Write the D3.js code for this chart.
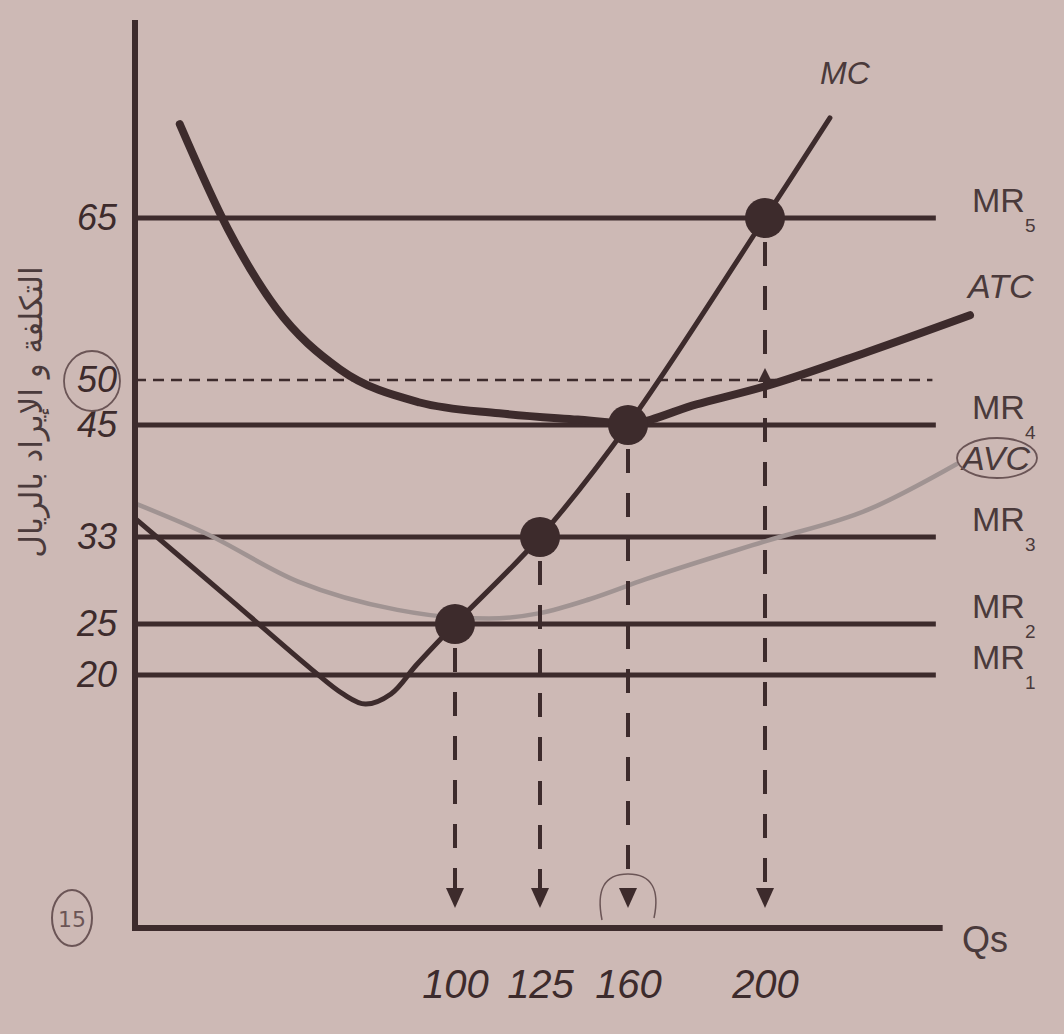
<!DOCTYPE html>
<html>
<head>
<meta charset="utf-8">
<script src="https://cdn.jsdelivr.net/npm/d3@7"></script>
<style>
  body { margin: 0; background: #cdb9b5; }
  svg { display: block; }
</style>
</head>
<body>
<div id="chart"></div>
<script>
// values (quantity, price in riyal)
var quantityTicks = [100, 125, 160, 200];
var priceTicks = [20, 25, 33, 45, 50, 65];

var mrPrices = [20, 25, 33, 45, 65];
var mrNames = ["1", "2", "3", "4", "5"];

var mcQ = [0, 30, 55, 65, 72, 80, 88, 100, 125, 160, 200, 219];
var mcP = [35, 27.2, 20.6, 18.5, 17.7, 18.5, 21, 25, 33, 45, 65, 74.6];

var atcQ = [14, 29, 44, 64, 89, 113, 140, 160, 180, 200, 230, 260];
var atcP = [74, 64, 56.7, 51, 47.5, 46.3, 45.6, 45.2, 47.3, 49.3, 52.6, 56];

var avcQ = [0, 22, 51, 82, 100, 110, 125, 145, 165, 200, 230, 256];
var avcP = [36.6, 33.4, 28.9, 26.3, 25.6, 25.5, 26.0, 27.3, 29.1, 32.6, 35.9, 40.8];

var optimumQ = [100, 125, 160, 200];
var optimumP = [25, 33, 45, 65];

var w = 1064;
var h = 1034;
var ink = "#3d2b2c";

var svg = d3.select("#chart")
    .append("svg")
    .attr("width", w)
    .attr("height", h);

svg.append("rect")
    .attr("width", w)
    .attr("height", h)
    .attr("fill", "#cdb9b5");

// the drawing is not to scale, so both scales are piecewise
var x = d3.scaleLinear()
    .domain([0, 100, 125, 160, 200, 260])
    .range([135, 455, 540, 628, 765, 970]);

var y = d3.scaleLinear()
    .domain([0, 20, 25, 33, 45, 50, 65, 84])
    .range([928, 675, 624, 537, 425, 380, 218, 20]);

var line = d3.line()
    .x(function(d) { return x(d[0]); })
    .y(function(d) { return y(d[1]); })
    .curve(d3.curveMonotoneX);

var smoothLine = d3.line()
    .x(function(d) { return x(d[0]); })
    .y(function(d) { return y(d[1]); })
    .curve(d3.curveCatmullRom.alpha(0.5));

function pairs(qs, ps) {
    return qs.map(function(q, i) { return [q, ps[i]]; });
}

// dashed line at 50
svg.append("line")
    .attr("x1", x(0)).attr("x2", x(249))
    .attr("y1", y(50)).attr("y2", y(50))
    .attr("stroke", ink)
    .attr("stroke-width", 2.5)
    .attr("stroke-dasharray", "11,7");

// MR lines
svg.selectAll(".mr")
    .data(mrPrices)
    .enter()
    .append("line")
    .attr("class", "mr")
    .attr("x1", x(0))
    .attr("x2", x(250))
    .attr("y1", function(d) { return y(d); })
    .attr("y2", function(d) { return y(d); })
    .attr("stroke", ink)
    .attr("stroke-width", 5);

// AVC
svg.append("path")
    .attr("d", line(pairs(avcQ, avcP)))
    .attr("fill", "none")
    .attr("stroke", "#a09392")
    .attr("stroke-width", 4.5)
    .attr("stroke-linecap", "round");

// MC
svg.append("path")
    .attr("d", smoothLine(pairs(mcQ, mcP)))
    .attr("fill", "none")
    .attr("stroke", ink)
    .attr("stroke-width", 5)
    .attr("stroke-linecap", "round");

// ATC
svg.append("path")
    .attr("d", line(pairs(atcQ, atcP)))
    .attr("fill", "none")
    .attr("stroke", ink)
    .attr("stroke-width", 8)
    .attr("stroke-linecap", "round");

// dashed drops to the quantity axis
var arrowTip = y(0) - 20;
svg.selectAll(".drop")
    .data(optimumQ)
    .enter()
    .append("line")
    .attr("class", "drop")
    .attr("x1", function(d) { return x(d); })
    .attr("x2", function(d) { return x(d); })
    .attr("y1", function(d, i) { return y(optimumP[i]) + 24; })
    .attr("y2", arrowTip - 16)
    .attr("stroke", ink)
    .attr("stroke-width", 4)
    .attr("stroke-dasharray", "24,20");

svg.selectAll(".head")
    .data(optimumQ)
    .enter()
    .append("path")
    .attr("class", "head")
    .attr("d", function(d) {
        var cx = x(d);
        return "M" + (cx - 9) + "," + (arrowTip - 20) + "L" + (cx + 9) + "," + (arrowTip - 20) + "L" + cx + "," + arrowTip + "Z";
    })
    .attr("fill", ink);

// small up arrow where ATC reaches 50 at q = 200
svg.append("path")
    .attr("d", "M" + (x(200) - 7) + "," + (y(50) + 2) + "L" + (x(200) + 7) + "," + (y(50) + 2) + "L" + x(200) + "," + (y(50) - 12) + "Z")
    .attr("fill", ink);

// dots
svg.selectAll(".dot")
    .data(optimumQ)
    .enter()
    .append("circle")
    .attr("class", "dot")
    .attr("cx", function(d) { return x(d); })
    .attr("cy", function(d, i) { return y(optimumP[i]); })
    .attr("r", 20)
    .attr("fill", ink);

// axes
svg.append("line")
    .attr("x1", x(0)).attr("x2", x(0))
    .attr("y1", y(0)).attr("y2", y(84))
    .attr("stroke", ink)
    .attr("stroke-width", 6);

svg.append("line")
    .attr("x1", x(0) - 3).attr("x2", x(252))
    .attr("y1", y(0)).attr("y2", y(0))
    .attr("stroke", ink)
    .attr("stroke-width", 6);

var yAxis = svg.append("g")
    .attr("transform", "translate(" + x(0) + ",0)")
    .call(d3.axisLeft(y).tickValues(priceTicks).tickSize(0).tickPadding(18));
yAxis.select(".domain").remove();
yAxis.selectAll("text")
    .attr("font-family", "Liberation Sans, Arial, sans-serif")
    .attr("font-style", "italic")
    .attr("font-size", 36)
    .attr("fill", ink);

var xAxis = svg.append("g")
    .attr("transform", "translate(0," + y(0) + ")")
    .call(d3.axisBottom(x).tickValues(quantityTicks).tickSize(0).tickPadding(42));
xAxis.select(".domain").remove();
xAxis.selectAll("text")
    .attr("font-family", "Liberation Sans, Arial, sans-serif")
    .attr("font-style", "italic")
    .attr("font-size", 40)
    .attr("fill", ink);

// curve and line labels
var labelFont = "Liberation Sans, Arial, sans-serif";
var mr = svg.selectAll(".mrlabel")
    .data(mrPrices)
    .enter()
    .append("text")
    .attr("class", "mrlabel")
    .attr("x", 972)
    .attr("y", function(d) { return y(d) - 6; })
    .attr("font-family", labelFont)
    .attr("font-size", 34)
    .attr("fill", "#4a3a3b")
    .text("MR");
mr.append("tspan")
    .attr("dy", 20)
    .attr("font-size", 19)
    .text(function(d, i) { return mrNames[i]; });

svg.append("text")
    .attr("x", 968).attr("y", 298)
    .attr("font-family", labelFont)
    .attr("font-style", "italic")
    .attr("font-size", 34)
    .attr("fill", "#4a3a3b")
    .text("ATC");

svg.append("text")
    .attr("x", 962).attr("y", 470)
    .attr("font-family", labelFont)
    .attr("font-style", "italic")
    .attr("font-size", 34)
    .attr("fill", "#4a3a3b")
    .text("AVC");

svg.append("text")
    .attr("x", 820).attr("y", 84)
    .attr("font-family", labelFont)
    .attr("font-style", "italic")
    .attr("font-size", 32)
    .attr("fill", "#4a3a3b")
    .text("MC");

svg.append("text")
    .attr("x", 962).attr("y", 952)
    .attr("font-family", labelFont)
    .attr("font-size", 36)
    .attr("fill", "#4a3a3b")
    .text("Qs");

// vertical axis title
svg.append("text")
    .attr("transform", "translate(42,412) rotate(-90)")
    .attr("text-anchor", "middle")
    .attr("font-family", "DejaVu Sans, sans-serif")
    .attr("font-size", 31)
    .attr("fill", "#4a3a3b")
    .text("التكلفة و الإيراد بالريال");

// pen marks on the page
var pen = "#6b5556";
svg.append("ellipse")
    .attr("cx", 92).attr("cy", 381).attr("rx", 28).attr("ry", 30)
    .attr("fill", "none").attr("stroke", pen).attr("stroke-width", 1.8);
svg.append("ellipse")
    .attr("cx", 997).attr("cy", 458).attr("rx", 40).attr("ry", 20)
    .attr("fill", "none").attr("stroke", pen).attr("stroke-width", 1.8);
svg.append("path")
    .attr("d", "M602,920 C596,890 604,874 628,874 C652,874 660,890 654,918")
    .attr("fill", "none").attr("stroke", pen).attr("stroke-width", 1.5);
svg.append("ellipse")
    .attr("cx", 72).attr("cy", 918).attr("rx", 20).attr("ry", 28)
    .attr("fill", "none").attr("stroke", pen).attr("stroke-width", 2);
svg.append("text")
    .attr("x", 72).attr("y", 927)
    .attr("text-anchor", "middle")
    .attr("font-family", "DejaVu Sans, sans-serif")
    .attr("font-size", 22)
    .attr("fill", pen)
    .text("15");
</script>
</body>
</html>
